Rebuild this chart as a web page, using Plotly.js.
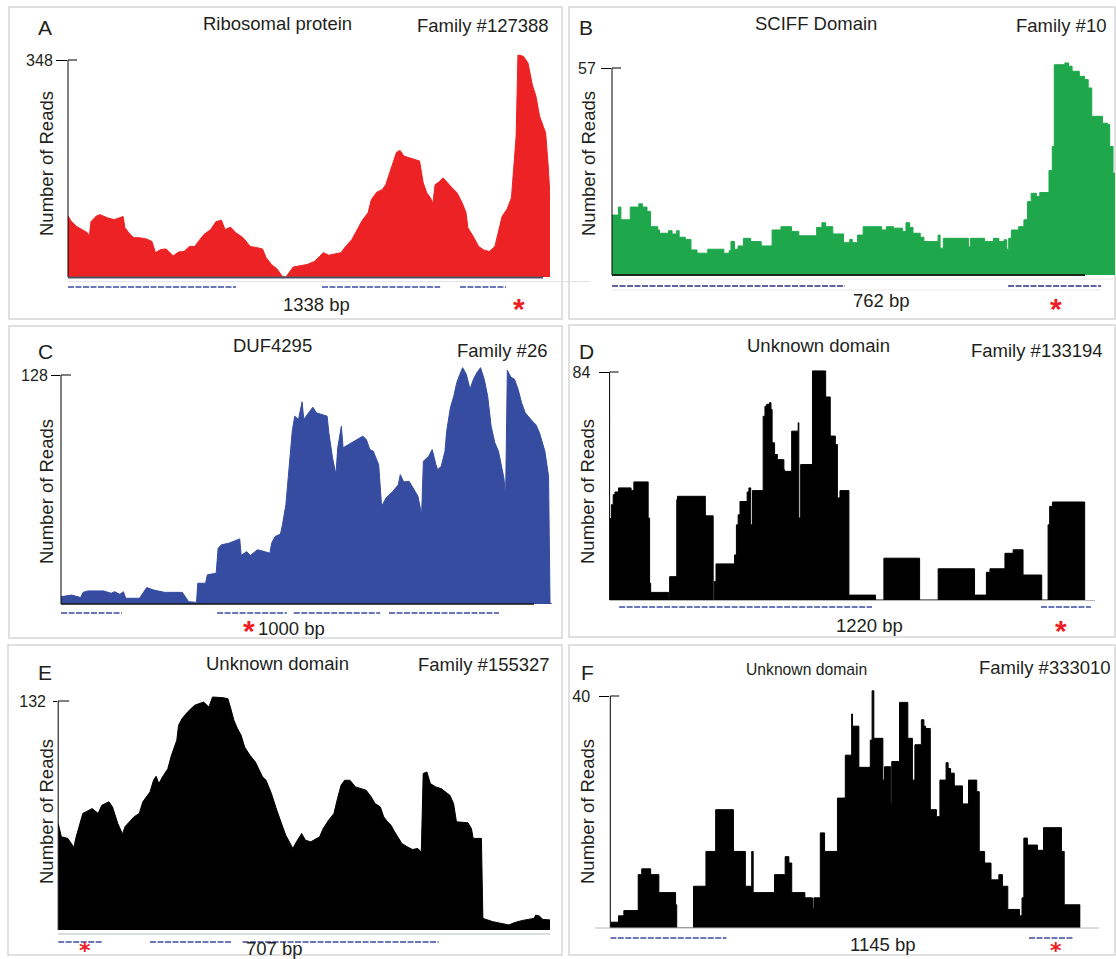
<!DOCTYPE html>
<html><head><meta charset="utf-8">
<script src="https://cdn.plot.ly/plotly-3.0.1.min.js"></script>
<style>html,body{margin:0;padding:0;background:#fff}#chart{width:1116px;height:959px}</style>
</head><body><div id="chart"></div>
<script>
const W = 1116, H = 959;
const FONT = 'Liberation Sans, Arial, Helvetica, sans-serif';
const TXT = '#231f20';
const px = v => v / W;
const py = v => 1 - v / H;

// ---------------- data (bp position, number of reads) ----------------
const posA = [0,9.5,24,39,54,59,64,79,89,109,128,143,153,158,173,183,198,218,233,243,257,272,292,307,322,337,352,362,377,396,411,426,436,451,466,486,506,525,540,550,565,580,595,605,615,625,644,664,684,699,709,724,739,758,768,788,803,818,833,842,857,872,882,892,902,912,922,932,947,962,976,986,996,1006,1013,1019,1031,1041,1051,1066,1080,1095,1105,1110,1125,1140,1155,1170,1185,1195,1205,1219,1231,1239,1244,1249,1264,1277,1289,1299,1309,1319,1326,1333,1338];
const readsA = [98,89,81,76,71,65,89,98,100,95,92,95,97,79,68,63,63,61,57,39,44,45,34,40,41,49,49,57,68,76,89,91,76,80,71,63,49,47,45,31,20,13,1,0,9,16,18,20,25,34,39,35,37,39,47,60,76,92,103,124,136,140,148,164,183,200,203,194,191,189,186,151,135,127,118,148,153,159,152,143,135,118,103,79,65,49,43,41,49,71,97,109,127,188,226,356,354,343,308,290,258,242,231,178,129];

const posB = [0,9.7,13.5,27.6,40.6,46,53,58.4,69.3,72,85.5,91,98,101.7,111,119.6,128.8,145,169.4,177.5,180.2,185.6,191,199.2,210,226,242.5,256,272,283,310,318,323.6,334.5,350.7,360,364,372,380.5,408.6,415.6,426.5,440,445.4,451,456,467,472.5,494,497,502,540,543,564.5,578,586,594,598,601,605,616,624,629.4,635,643,648,662,667,670,686,691.6,697,708,716,721.4,726.8,743,751,754,759,762];
const readsB = [16.5,18.7,15.2,18.7,19.6,18.7,17.5,13.3,12.4,11.5,12.2,11.3,12.2,10.4,9.8,6.9,6.0,7.1,6.0,6.7,9.2,7.1,8.0,10.1,9.2,8.0,12.4,13.3,12.0,10.8,13.1,14.4,13.3,11.3,8.9,9.8,8.9,11.0,13.3,12.4,13.3,12.9,12.0,14.4,13.1,11.5,10.4,9.2,11.0,7.4,10.1,7.8,10.1,9.2,10.1,9.2,9.7,7.1,10.1,12.4,13.3,15.2,20.2,22.5,21.6,22.7,28.8,35.4,57.9,58.4,57.5,56.1,54.7,53.8,51.5,43.7,41.8,41.4,35.4,28.0,0];

const posC = [0,21.8,40,45,54.5,87,102,109,120,127,132,160,174.5,189,211,247,260,276,278.5,294.5,298,316,320,327,342,364,367,378,385.5,400,414.5,425.5,429,436,447,451,458,465.5,471,476,483.6,491,494.5,502,513,520,531,542,545.5,553,560,563.6,571,574.5,585.5,603.6,614.5,622,629,636,647,653,662,676,687,691,698,709,720,727,734.5,738,749,756,763.6,767,774.5,782,785.5,793,800,806,811,818,825.5,833,840,847,854.5,862,869,876,883.6,891,902,905.5,909,916,923.6,931,938,945.5,960,967,974.5,985.5,993,996,1000];
const readsC = [4.1,5.0,3.6,6.5,7.3,7.3,6.0,6.9,5.4,6.9,3.2,3.2,9.2,7.8,6.5,6.5,1.3,0.9,11.6,11.6,16.3,17.2,31.2,33.1,34.0,36.4,27.1,29.3,27.1,30.3,29.3,28.4,34.0,37.7,39.1,44.3,55.5,79.8,96.6,105,103.1,113,103.1,106,110,106.9,106,105,95.7,81.7,72.3,87.3,99.4,87.3,89.1,91.9,93.8,91.9,86.3,85.4,77.9,54.6,59.2,63,66.7,72.3,68.2,68.6,63,60.2,49.9,79.8,82.6,86.3,77.9,75.1,77,85.4,96.6,109.7,116.2,123.7,127.4,132.1,128.4,120,125.6,129.3,132.1,125.6,116.2,99.4,90.1,85.4,70.4,60.2,130.6,126.9,125.6,120,112.5,106.9,102.2,100.3,95.7,85.4,71.4,0.4,0];

const posD = [0,4.5,9,13.5,22.5,54,61,97,100.6,103.3,149,151,169,170.7,240.8,260.5,263,267.7,314.4,319,323.4,328,346,350.4,355,359.4,386.3,390.8,395.3,402.5,406,408.8,415,422,438.4,440,458,474.4,476,480.6,510.3,543.5,555,567.8,573,579.5,602,669,690,779.8,826.5,918,947.8,956.8,994.5,1015,1040,1087,1103,1107,1114,1195];
const readsD = [30,35.1,38.8,39.8,41.3,40.3,43.5,30.2,6.2,2.8,0.6,8.6,37,38.2,31,0,6.8,13.3,16.6,27.7,31.4,36.3,39.8,41.3,27.7,40.3,67.7,71.4,72.1,72.7,70.2,57.9,53.6,51.7,48,47.4,62.2,65.3,30.2,49.9,84.4,74.8,60.4,57.3,37.6,40.3,1.8,0,15.4,0,11.5,1.8,10.2,11.5,17.2,18.5,9.2,0,27.7,34.5,36.1,0];

const posE = [0,4.6,13.9,22.6,25.2,30.3,35.4,48.8,57.5,62.6,72.9,78,85.7,92.4,96,108.8,116.5,121.7,132,137,140.7,144.8,150,157.6,162.8,170.5,173,178,186,196,209,216.7,221.8,237,244,247.5,252.6,257.7,263,268,275.7,283.4,288.5,293.7,298.8,306.5,314.2,322,327,333,337.3,342.5,350,355.3,363,375.8,381,388.7,396.4,401.5,406.7,411.8,419.5,427.2,435,442.6,450,455.4,463,468,473.4,478.5,483.6,488.8,494,501.6,509.3,517,522,524.7,530,535,542.7,550.4,558,563,568.4,572.5,589,594,596.6,608.4,610.5,624.8,648,655.5,666,684,686.5,691.6,696.7,707];
const readsE = [61.4,53.7,52.8,47.6,52.8,59.5,67.2,70,67.2,71.9,73.9,71,61.4,55.3,59.5,65.2,67.2,73.9,79.6,86.3,88.6,84.4,88.3,93,100.7,109.4,118,121.8,125.7,129.5,131.4,128.5,134.3,133.9,133.3,128.5,120.9,116.1,112.2,105.5,100.7,96.9,93,88.3,86.3,78.7,69.1,59.5,54.7,50.3,47,50.8,55.6,51.8,50.8,53.7,58.5,63.3,67.2,75.8,83.5,86.3,86.3,82.5,81.5,80.6,76.7,72.9,71,65.2,62.4,60.4,56.6,52.8,49.9,48,46.4,47,44.9,90.2,91.1,84.4,82.5,81.5,79,77.7,72.9,62.4,61.8,58.5,52.8,52.8,6.7,4.8,2.9,4.2,5.4,6.7,8.6,8.1,6.1,5.8];

const posF = [0,20,33,68,76.6,98.3,118.3,159,161.8,202.7,233,256.7,300,329,344.5,348,400,426,435,442,474,492.5,496,511.6,522,553.4,572.5,588,590,605.6,633.4,637.8,642,664,668,683,685.6,704.7,724.8,736,742,757.8,764,768.3,779.6,794.4,803,818,823,829,838,858,872.7,892.7,898.8,911.8,927.5,946.6,955.3,968.4,997,1003,1007.5,1016,1040.6,1055.4,1099,1105.8,1145];
const readsF = [1.0,2.1,3.0,9.2,10.2,9.2,6.1,4.0,0,7.2,13.2,20.4,13.2,7.2,13.2,6.1,9.2,12.3,11.2,6.1,5.2,3.4,5.2,16.4,13.2,22.4,29.8,36.9,34.8,27.7,32.4,40.9,32.7,25.5,27.8,21.5,28.7,38.9,32.7,25.5,31.6,35.9,34.8,34.4,20.4,19.2,25.5,28.5,27.5,26.7,24.5,21.4,25.5,23.5,13.2,11.2,8.3,9.2,7.2,3.2,2.1,5.2,15.5,14.3,13.4,17.3,13.2,4.0,0];

// transcript / ORF segments (bp)
const orfA = [[0,466],[705,1033],[1088,1216]];
const orfB = [[0,353],[600,741]];
const orfC = [[0,124],[318,460],[474,650],[668,892]];
const orfD = [[24,660],[1085,1211]];
const orfE = [[0,63],[132,250],[265,547]];
const orfF = [[0,283],[1020,1128]];

const lettersTxt = ['A','B','C','D','E','F'];
const domainTxt = ['Ribosomal protein','SCIFF Domain','DUF4295','Unknown domain','Unknown domain','Unknown domain'];
const familyTxt = ['Family #127388','Family #10','Family #26','Family #133194','Family #155327','Family #333010'];
const lengthBp = [1338, 762, 1000, 1220, 707, 1145];
const maxTick = [348, 57, 128, 84, 132, 40];

// ---------------- panel geometry (pixels) ----------------
const panels = [
 {pos:posA, reads:readsA, orfs:orfA, color:'#ed2224', shape:'linear',
  x0:68, x1:550, yb:277, yT:60, ytop:50, tOut:11, tIn:9, stand:0,
  frame:[9,7,562,319], base:{x1:543, y:277.5, c:'#4d5260', w:2}, orfY:287, orfC:'#3a4ba3',
  letter:[45,28], title:[277,24,18.5], fam:[551,26], ytitle:[46,164], bp:[316,304], star:[519,302,30]},
 {pos:posB, reads:readsB, orfs:orfB, color:'#1fa84b', shape:'hv',
  x0:612, x1:1115, yb:275, yT:68, ytop:60, tOut:10, tIn:9, stand:2,
  frame:[569,7,1115,319], base:{x1:1085, y:275, c:'#1c2a1e', w:2}, orfY:286, orfC:'#2c3184',
  letter:[586,28], title:[816,24,18.5], fam:[1108,26], ytitle:[588,164], bp:[881,301], star:[1056,302,30]},
 {pos:posC, reads:readsC, orfs:orfC, color:'#354ca0', shape:'linear',
  x0:61, x1:552, yb:604, yT:375, ytop:364, tOut:9, tIn:10, stand:0,
  frame:[9,326,562,638], base:{x1:534, y:604, c:'#111', w:1.5}, orfY:613, orfC:'#3a4ba3',
  letter:[45,351], title:[272,345,18.5], fam:[549,350], ytitle:[46,492], bp:[291,628], star:[249,624,30]},
 {pos:posD, reads:readsD, orfs:orfD, color:'#000000', shape:'hv',
  x0:609.6, x1:1094.6, yb:600, yT:372, ytop:364, tOut:10, tIn:9, stand:5,
  frame:[569,325,1115,637], base:{x1:1095, y:600.5, c:'#b5b5b5', w:1}, orfY:607, orfC:'#3a4ba3',
  letter:[586,351], title:[818,345,18.5], fam:[1105,350], ytitle:[587,492], bp:[869,625], star:[1061,624,30]},
 {pos:posE, reads:readsE, orfs:orfE, color:'#000000', shape:'linear',
  x0:58.2, x1:550, yb:930, yT:701, ytop:692, tOut:4, tIn:11, stand:4,
  frame:[8,645,562,955], base:{x1:550, y:934, c:'#cdd0da', w:1.5}, orfY:942, orfC:'#3a4ba3',
  letter:[45,672], title:[277,663,18.5], fam:[552,664], ytitle:[46,812], bp:[274,948], star:[85,958.5,22,'low']},
 {pos:posF, reads:readsF, orfs:orfF, color:'#000000', shape:'hv',
  x0:610.3, x1:1080.3, yb:928, yT:696, ytop:688, tOut:10, tIn:9, stand:6,
  frame:[569,645,1115,955], base:{x0:595, x1:1099, y:928, c:'#b8b8b8', w:1}, orfY:938, orfC:'#3a4ba3',
  letter:[587,672], title:[806,669,15.7], fam:[1113,667], ytitle:[587,812], bp:[883,944], star:[1056,958.5,22,'low']}
];

const traces = [], shapes = [], annotations = [];
const layout = {
  width: W, height: H, margin:{l:0,r:0,t:0,b:0},
  paper_bgcolor:'#ffffff', plot_bgcolor:'rgba(0,0,0,0)', showlegend:false,
  font:{family:FONT, color:TXT}
};

function line(x0,y0,x1,y1,color,width,dash){
  shapes.push({type:'line', xref:'paper', yref:'paper', x0:px(x0), x1:px(x1), y0:py(y0), y1:py(y1),
    line:{color:color, width:width, dash:dash||'solid'}});
}
function text(t,x,y,size,opts){
  annotations.push(Object.assign({text:t, xref:'paper', yref:'paper', x:px(x), y:py(y),
    xanchor:'center', yanchor:'middle', showarrow:false,
    font:{family:FONT, size:size, color:TXT}}, opts||{}));
}

panels.forEach((p,i) => {
  const n = i === 0 ? '' : String(i+1);
  const xa = 'x'+n, ya = 'y'+n;
  const L = lengthBp[i], T = maxTick[i];
  const ymax = T*(p.yb - p.ytop)/(p.yb - p.yT);
  layout['xaxis'+n] = {domain:[px(p.x0), px(p.x1)], range:[0, L], visible:false, fixedrange:true, anchor:ya};
  layout['yaxis'+n] = {domain:[py(p.yb), py(p.ytop)], range:[0, ymax], anchor:xa, fixedrange:true,
    tickvals:[T], ticktext:[String(T)], ticks:'outside', ticklen:p.tOut, tickwidth:1, tickcolor:'#000',
    ticklabelstandoff:p.stand, showline:false, showgrid:false, zeroline:false,
    tickfont:{family:FONT, size:16, color:TXT}};
  traces.push({type:'scatter', mode:'lines', x:p.pos, y:p.reads, xaxis:xa, yaxis:ya,
    fill:'tozeroy', fillcolor:p.color, line:{color:p.color, width:1, shape:p.shape}, hoverinfo:'skip'});

  // frame
  const f = p.frame;
  shapes.push({type:'rect', xref:'paper', yref:'paper', x0:px(f[0]), x1:px(f[2]), y0:py(f[3]), y1:py(f[1]),
    line:{color:'#d6d6d6', width:1.5}, layer:'below'});
  // y axis line and inner tick
  line(p.x0, p.yb, p.x0, p.yT, '#000', 1);
  line(p.x0, p.yT, p.x0 + p.tIn, p.yT, '#000', 1);
  // baseline
  line(p.base.x0 !== undefined ? p.base.x0 : p.x0, p.base.y, p.base.x1, p.base.y, p.base.c, p.base.w);
  // ORF dashes
  p.orfs.forEach(s => shapes.push({type:'line', xref:xa, yref:'paper', x0:s[0], x1:s[1], y0:py(p.orfY), y1:py(p.orfY),
    line:{color:p.orfC, width:1.6, dash:'6px,1.5px'}}));
  // texts
  text(lettersTxt[i], p.letter[0], p.letter[1], 21);
  text(domainTxt[i], p.title[0], p.title[1], p.title[2]);
  text(familyTxt[i], p.fam[0], p.fam[1], 18.5, {xanchor:'right'});
  text('Number of Reads', p.ytitle[0], p.ytitle[1], 18.5, {textangle:-90});
  text(lengthBp[i] + ' bp', p.bp[0], p.bp[1], 18.5);
  const ss = p.star[2];
  if (p.star[3] === 'low') {
    // low asterisk glyph keeps the mark near the bottom edge while its text box stays inside the page
    text('<b>\u204E</b>', p.star[0], p.star[1], ss,
      {yanchor:'bottom', font:{family:'DejaVu Sans, Liberation Sans, sans-serif', size:ss, color:'#ee1c25'}});
  } else {
    text('<b>*</b>', p.star[0], p.star[1] + ss*0.22, ss, {font:{family:FONT, size:ss, color:'#ee1c25'}});
  }
});

// faint guide lines visible in the original figure
line(68, 281.5, 590, 281.5, '#e2e4ec', 1);
line(612, 279, 1115, 279, '#e6e6e6', 1);
line(612, 290, 1101, 290, '#e9e9e9', 1);

layout.shapes = shapes;
layout.annotations = annotations;
Plotly.newPlot('chart', traces, layout, {staticPlot:true, displayModeBar:false});
</script></body></html>
